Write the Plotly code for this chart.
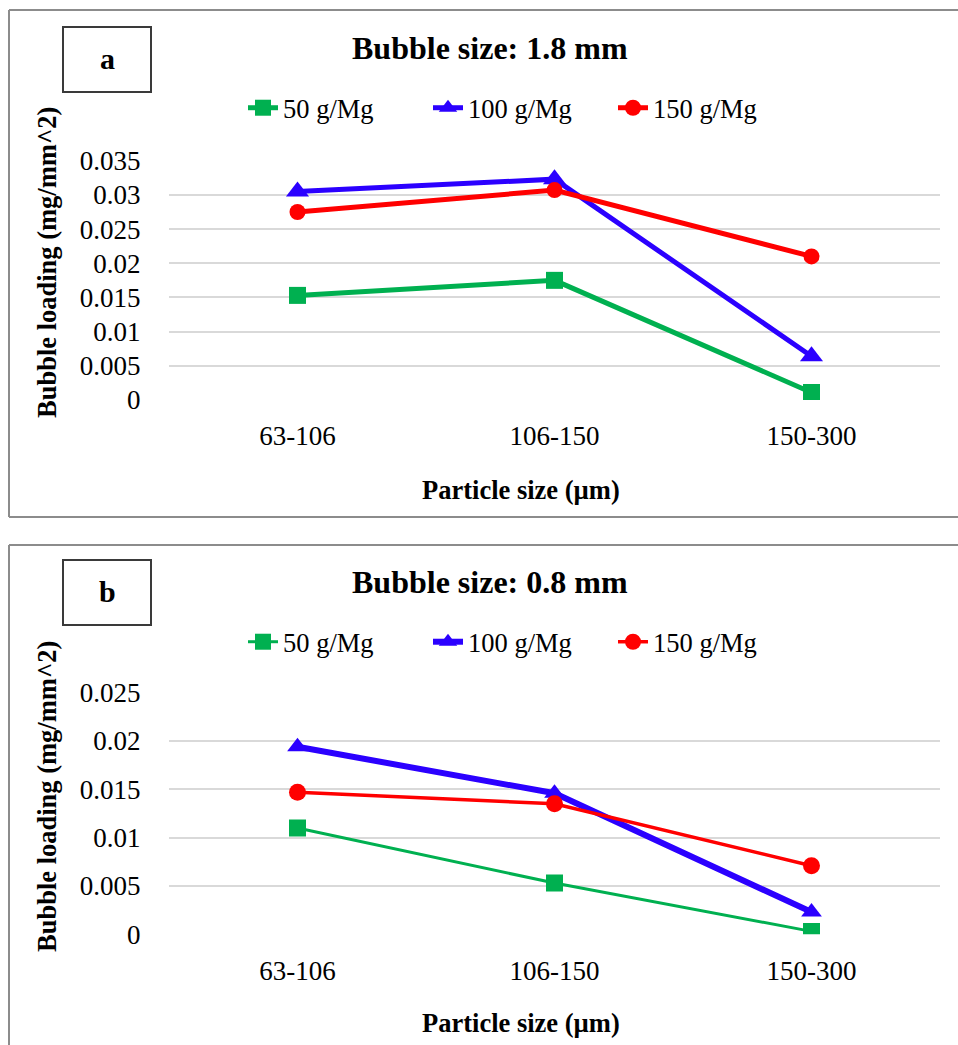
import plotly.graph_objects as go

W, H = 958, 1045

categories = ["63-106", "106-150", "150-300"]
series_names = ["50 g/Mg", "100 g/Mg", "150 g/Mg"]

# Panel a: bubble size 1.8 mm
a_50 = [0.0153, 0.0175, 0.0011]
a_100 = [0.0305, 0.0323, 0.0064]
a_150 = [0.0275, 0.0307, 0.0210]

# Panel b: bubble size 0.8 mm
b_50 = [0.0110, 0.0053, 0.0003]
b_100 = [0.0194, 0.0146, 0.0023]
b_150 = [0.0147, 0.0135, 0.0071]

a_ticks = [0, 0.005, 0.01, 0.015, 0.02, 0.025, 0.03, 0.035]
a_ticktext = ["0", "0.005", "0.01", "0.015", "0.02", "0.025", "0.03", "0.035"]
b_ticks = [0, 0.005, 0.01, 0.015, 0.02, 0.025]
b_ticktext = ["0", "0.005", "0.01", "0.015", "0.02", "0.025"]

GREEN = "#00B050"
BLUE = "#2B00FF"
RED = "#FF0000"
FONT = "Liberation Serif, Times New Roman, serif"


def px(xp):
    return xp / W


def py(yp):
    return 1 - yp / H


fig = go.Figure()

styles_a = [
    (GREEN, "square", 17),
    (BLUE, "triangle-up", 20),
    (RED, "circle", 16),
]
styles_b = [
    (GREEN, "square", 17),
    (BLUE, "triangle-up", 18),
    (RED, "circle", 17),
]

for vals, name, (col, sym, sz) in zip([a_50, a_100, a_150], series_names, styles_a):
    fig.add_trace(go.Scatter(
        x=categories, y=vals, name=name, mode="lines+markers",
        line=dict(color=col, width=5),
        marker=dict(color=col, symbol=sym, size=sz),
        xaxis="x", yaxis="y", legend="legend",
    ))

b_widths = [3, 6, 3.5]
for vals, name, (col, sym, sz), lw in zip([b_50, b_100, b_150], series_names, styles_b, b_widths):
    fig.add_trace(go.Scatter(
        x=categories, y=vals, name=name, mode="lines+markers",
        line=dict(color=col, width=lw),
        marker=dict(color=col, symbol=sym, size=sz),
        xaxis="x2", yaxis="y2", legend="legend2",
    ))

xdom = [px(169), px(940)]
common_x = dict(type="category", range=[-0.5, 2.5], showgrid=False, showline=False,
                zeroline=False, ticks="outside", ticklen=12, tickcolor="rgba(0,0,0,0)",
                tickfont=dict(family=FONT, size=27, color="black"), automargin=False)
common_y = dict(showgrid=True, gridcolor="#D9D9D9", gridwidth=1.5, zeroline=False,
                showline=False, ticks="outside", ticklen=22, tickcolor="rgba(0,0,0,0)",
                tickfont=dict(family=FONT, size=27, color="black"), automargin=False)

legend_common = dict(orientation="h", xanchor="left", yanchor="middle",
                     font=dict(family=FONT, size=26.5, color="black"),
                     bgcolor="rgba(0,0,0,0)", entrywidth=140, entrywidthmode="pixels")

fig.update_layout(
    width=W, height=H,
    margin=dict(l=0, r=0, t=0, b=0, pad=0, autoexpand=False),
    paper_bgcolor="white", plot_bgcolor="white",
    font=dict(family=FONT, color="black"),
    xaxis=dict(domain=xdom, anchor="y", **common_x),
    yaxis=dict(domain=[py(400), py(160.7)], range=[0, 0.035], anchor="x",
               tickvals=a_ticks, ticktext=a_ticktext, **common_y),
    xaxis2=dict(domain=xdom, anchor="y2", **common_x),
    yaxis2=dict(domain=[py(934.3), py(692.7)], range=[0, 0.025], anchor="x2",
                tickvals=b_ticks, ticktext=b_ticktext, **common_y),
    legend=dict(x=px(243), y=py(108), **legend_common),
    legend2=dict(x=px(243), y=py(642), **legend_common),
)

border = dict(color="#8C8C8C", width=2)
shapes = [
    # panel a border
    dict(type="line", xref="paper", yref="paper", x0=px(9), x1=px(970), y0=py(10), y1=py(10), line=border),
    dict(type="line", xref="paper", yref="paper", x0=px(9), x1=px(9), y0=py(10), y1=py(517), line=border),
    dict(type="line", xref="paper", yref="paper", x0=px(9), x1=px(970), y0=py(517), y1=py(517), line=border),
    # panel b border
    dict(type="line", xref="paper", yref="paper", x0=px(9), x1=px(970), y0=py(545), y1=py(545), line=border),
    dict(type="line", xref="paper", yref="paper", x0=px(9), x1=px(9), y0=py(545), y1=py(1060), line=border),
    # label boxes
    dict(type="rect", xref="paper", yref="paper", x0=px(63), x1=px(151), y0=py(27), y1=py(92),
         line=dict(color="#3A3A3A", width=2), fillcolor="white"),
    dict(type="rect", xref="paper", yref="paper", x0=px(63), x1=px(151), y0=py(560), y1=py(625),
         line=dict(color="#3A3A3A", width=2), fillcolor="white"),
]
fig.update_layout(shapes=shapes)

ann = []
def add_text(text, x, y, size, bold=True, angle=0):
    ann.append(dict(text=f"<b>{text}</b>" if bold else text, x=px(x), y=py(y),
                    xref="paper", yref="paper", showarrow=False, textangle=angle,
                    xanchor="center", yanchor="middle",
                    font=dict(family=FONT, size=size, color="black")))

add_text("a", 107, 58, 30)
add_text("b", 107, 591, 30)
add_text("Bubble size: 1.8 mm", 490, 48, 32)
add_text("Bubble size: 0.8 mm", 490, 582, 32)
add_text("Particle size (µm)", 521, 490, 26.5)
add_text("Particle size (µm)", 521, 1023, 26.5)
add_text("Bubble loading (mg/mm^2)", 47, 263, 26.5, angle=-90)
add_text("Bubble loading (mg/mm^2)", 47, 797, 26.5, angle=-90)
fig.update_layout(annotations=ann)

fig.write_html("out.html")
